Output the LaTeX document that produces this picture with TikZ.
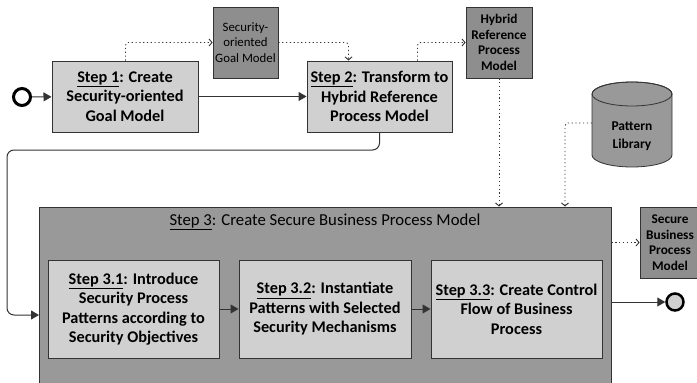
\documentclass[tikz,border=0pt]{standalone}
\usepackage{fontspec}
\setmainfont{Carlito}
\usetikzlibrary{arrows.meta,calc}

\definecolor{stepfill}{HTML}{D0D0D0}
\definecolor{docfill}{HTML}{8E8E8E}
\definecolor{groupfill}{HTML}{999999}
\definecolor{edge}{HTML}{333333}

\tikzset{
  stepbox/.style={draw=edge, line width=1pt, fill=stepfill, align=center,
    font=\fontsize{16.3}{19.5}\selectfont\bfseries, inner sep=2pt},
  docbox/.style={draw=edge, line width=0.8pt, fill=docfill, align=center,
    font=\fontsize{12.8}{15.5}\selectfont, inner sep=1pt},
  boldtext/.style={font=\fontsize{13.3}{15.5}\selectfont\bfseries},
  flow/.style={draw=edge, line width=1pt, -{Triangle[length=8pt,width=9pt]}},
  assoc/.style={draw=edge, line width=0.9pt, dash pattern=on 1.2pt off 2.6pt,
    rounded corners=3pt, -{Straight Barb[length=3pt,width=7pt]}},
  event/.style={circle, draw=black, minimum size=17pt, inner sep=0pt}
}
\newcommand{\stepno}[1]{\underline{#1}}

\begin{document}
\begin{tikzpicture}[x=1pt,y=1pt]
\useasboundingbox (0,0) rectangle (697,-383);
\begin{scope}
\clip (0,0) rectangle (697,-383);

% events
\node[event, line width=3pt, fill=white] (start) at (22,-97) {};
\node[event, line width=2.5pt, fill=stepfill] (end) at (675,-302) {};

% steps 1 and 2
\node[stepbox, minimum width=146pt, minimum height=71pt] (s1) at (125,-96.5)
  {\stepno{Step 1}: Create\\Security-oriented\\Goal Model};
\node[stepbox, minimum width=145pt, minimum height=71pt] (s2) at (379.5,-96.5)
  {\stepno{Step 2}: Transform to\\Hybrid Reference\\Process Model};

% artefacts
\node[docbox, minimum width=65pt, minimum height=71pt] (d1) at (245.5,-42.5)
  {Security-\\oriented\\Goal Model};
\node[docbox, boldtext, minimum width=66pt, minimum height=71pt] (d2) at (499,-42.5)
  {Hybrid\\Reference\\Process\\Model};
\node[docbox, boldtext, minimum width=60pt, minimum height=71pt] (d3) at (670,-242.5)
  {Secure\\Business\\Process\\Model};

% pattern library store
\fill[groupfill, draw=edge, line width=0.8pt]
  (592,-94) -- (592,-155) arc[start angle=180, end angle=360, x radius=40pt, y radius=12pt]
  -- (672,-94) arc[start angle=0, end angle=180, x radius=40pt, y radius=12pt] -- cycle;
\draw[edge, line width=0.8pt] (632,-94) ellipse [x radius=40pt, y radius=12pt];
\node[font=\fontsize{13.5}{17.5}\selectfont\bfseries, align=center, minimum width=80pt,
  minimum height=60pt, inner sep=0pt] (lib) at (632,-136) {Pattern\\Library};

% step 3 group
\node[draw=edge, line width=1pt, fill=groupfill, minimum width=572pt,
  minimum height=190pt, inner sep=0pt] (s3) at (325,-302) {};
\node[font=\fontsize{16.7}{19.5}\selectfont] (s3t) at (325,-222)
  {\stepno{Step 3}: Create Secure Business Process Model};

\node[stepbox, minimum width=171pt, minimum height=98pt] (s31) at (133.5,-309)
  {\stepno{Step 3.1}: Introduce\\Security Process\\Patterns according to\\Security Objectives};
\node[stepbox, minimum width=172pt, minimum height=98pt] (s32) at (325,-309)
  {\stepno{Step 3.2}: Instantiate\\Patterns with Selected\\Security Mechanisms};
\node[stepbox, minimum width=171pt, minimum height=98pt] (s33) at (516.5,-309)
  {\stepno{Step 3.3}: Create Control\\Flow of Business\\Process};
\end{scope}

% sequence flow
\coordinate (in3) at (39,-315);
\draw[flow] (start) -- (s1);
\draw[flow] (s1) -- (s2);
\draw[flow, rounded corners=7pt] (s2.south) |- (7,-150) -- (7,-315) -- (in3);
\draw[flow] (s31) -- (s32);
\draw[flow] (s32) -- (s33);
\draw[flow] (s3.east |- end) -- (end);

% data associations
\draw[assoc] ($(s1.north west)+(74,0)$) |- (d1.west);
\draw[assoc] (d1.east) -| ($(s2.north west)+(42,0)$);
\draw[assoc] ($(s2.north west)+(111,0)$) |- (d2.west);
\draw[assoc] (d2.south) -- (d2.south |- s3.north);
\draw[assoc] (lib.west |- 0,-123) -| (s3.north -| 565,0);
\draw[assoc] (s3.east |- d3.west) -- (d3.west);
\end{tikzpicture}
\end{document}
